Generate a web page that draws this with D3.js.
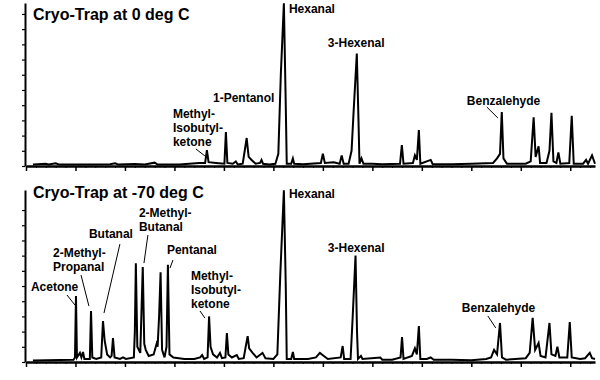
<!DOCTYPE html>
<html><head><meta charset="utf-8">
<script src="https://cdn.jsdelivr.net/npm/d3@7/dist/d3.min.js"></script>
<style>
html,body{margin:0;padding:0;background:#fff;}
svg text{font-family:"Liberation Sans",Arial,sans-serif;font-weight:bold;fill:#000;}
</style></head>
<body><svg id="c" width="600" height="380"></svg>
<script>
// ---------- DATA ----------
const panelTitles = ["Cryo-Trap at 0 deg C", "Cryo-Trap at -70 deg C"];
const xMajorTicks = d3.range(0, 56, 5);     // minutes
const xMinorTicks = d3.range(0, 58, 1);
const yTicks = d3.range(0, 101, 10);

// trace at 0 deg C: [time, signal]
const trace0 = [[0.7,1],[2.0,1.5],[2.3,1],[3.0,1.8],[3.3,1],[5,1],[8.5,1.2],[9.0,1.8],[9.3,1],[11,1.3],[12.0,1],[13.0,2.2],[13.3,1],[15.5,1],[16.5,1.5],[17.5,2],[18.1,2],[18.28,10.5],[18.45,2.5],[19.2,2],[20.05,1.5],[20.2,22.4],[20.35,2],[20.9,1.5],[21.2,3],[21.4,1],[21.9,1.5],[22.15,12],[22.3,18.4],[22.5,6],[22.8,4],[23.2,1.5],[23.65,2],[23.8,4],[23.95,1.5],[24.6,1],[25.2,1.5],[25.5,8],[25.75,60],[26.06,107],[26.25,40],[26.35,1.5],[26.8,1.5],[26.97,5],[27.1,1.5],[28,1.2],[29.8,2],[30.0,8],[30.2,2],[31.1,2.5],[31.7,1.5],[31.9,7],[32.1,1.5],[32.6,1.5],[32.9,10],[33.1,35],[33.43,74],[33.6,30],[33.7,1.5],[33.9,5],[34.1,1.5],[35,1.5],[36,1.2],[37.8,1.5],[37.98,13.8],[38.15,1.5],[39.1,2],[39.3,7],[39.5,4],[39.7,23.7],[39.85,1.5],[40.9,4],[41.1,1.2],[43,1.2],[45,1.5],[47.2,2],[47.6,5],[47.9,8],[48.08,35.5],[48.25,5],[48.6,1.5],[50.5,1.5],[51.0,3],[51.3,32],[51.5,6],[51.8,13],[51.95,2],[52.6,2],[52.9,10],[53.1,35],[53.3,3],[53.6,2],[53.8,9],[54.0,1.5],[54.9,2],[55.15,33],[55.35,1.5],[56.3,1.5],[56.6,4],[56.8,1.5],[57.2,7],[57.5,1.5]];

// trace at -70 deg C: [time, signal]
const trace70 = [[0.7,1],[4.8,1.5],[4.95,3],[5.05,43.4],[5.15,3],[5.45,6],[5.6,3],[5.76,6.6],[5.9,2],[6.45,2],[6.57,33.5],[6.7,3],[7.1,2],[7.6,3],[7.78,27],[7.95,14],[8.2,5],[8.5,3],[8.65,4],[8.79,15.8],[8.95,3],[9.5,2],[9.8,3],[10.1,2],[10.9,3],[11.0,20],[11.1,65],[11.25,10],[11.55,6],[11.8,62.5],[11.95,12],[12.1,8],[12.4,4],[12.9,5],[13.2,12],[13.3,10],[13.45,30],[13.6,59],[13.75,8],[14.0,3],[14.2,10],[14.34,64],[14.5,5],[14.9,3],[16,2],[17.0,2],[17.6,3],[17.8,4.6],[18.0,2],[18.35,3],[18.5,30],[18.65,10],[18.9,5],[19.3,3],[19.6,6],[19.8,2.5],[20.15,3],[20.3,19],[20.45,5],[20.8,3],[21.3,4.6],[21.5,2],[22.0,2.5],[22.2,10],[22.4,17],[22.55,9],[22.9,6],[23.3,3],[23.9,6],[24.2,2.5],[25.0,2],[25.4,5],[25.7,58],[26.06,113],[26.25,50],[26.35,2],[26.8,2],[26.97,6.6],[27.1,2],[28.5,2],[29.3,3],[29.7,6],[30.1,4],[30.5,2],[31.8,3],[32.0,10.5],[32.15,2],[32.8,2],[33.0,28],[33.3,70],[33.45,20],[33.55,2],[33.85,4],[34.0,2],[35.8,3],[36.0,1.5],[37.0,1.5],[37.85,3],[38.0,16.4],[38.15,2],[39.0,4],[39.3,9],[39.5,5],[39.7,23.7],[39.85,2],[40.5,2],[40.9,3],[41.2,1.5],[43,1.5],[45,1.2],[46.5,2],[47.0,3],[47.3,8],[47.6,5],[47.9,25.7],[48.1,3],[48.5,1.5],[50.5,2.5],[50.9,6],[51.2,29],[51.45,8],[51.8,12.5],[52.0,4],[52.5,3],[52.9,25.7],[53.1,5],[53.5,4],[53.7,10],[53.9,3],[54.7,3],[54.95,26.3],[55.15,3],[56.0,2],[56.5,2.5],[56.97,6],[57.2,2.5],[57.5,2]];

// peak labels: lines of text, anchor [time, signal]
const labels0 = [
  {lines:["Hexanal"], at:[26.57,100.7]},
  {lines:["3-Hexenal"], at:[30.5,78.3]},
  {lines:["Benzalehyde"], at:[44.55,40.1]},
  {lines:["1-Pentanol"], at:[18.9,42.1]},
  {lines:["Methyl-","Isobutyl-","ketone"], at:[14.85,31.6]}
];
const leaders0 = [
  [[17.17,11.2],[18.08,6.6]],
  [[46.57,38.8],[47.68,31.6]]
];
const labels70 = [
  {lines:["Hexanal"], at:[26.57,107.9]},
  {lines:["3-Hexenal"], at:[30.5,72.4]},
  {lines:["Benzalehyde"], at:[44.04,32.9]},
  {lines:["Acetone"], at:[0.5,46.7]},
  {lines:["2-Methyl-","Propanal"], at:[2.73,69.1]},
  {lines:["Butanal"], at:[6.36,81.6]},
  {lines:["2-Methyl-","Butanal"], at:[11.41,95.4]},
  {lines:["Pentanal"], at:[14.24,71.1]},
  {lines:["Methyl-","Isobutyl-","ketone"], at:[16.67,53.9]}
];
const leaders70 = [
  [[4.14,44.1],[4.95,37.5]],
  [[5.56,57.2],[6.36,36.8]],
  [[9.49,77.6],[7.88,32.2]],
  [[12.32,83.6],[11.92,65.1]],
  [[14.85,67.1],[14.55,61.8]],
  [[17.58,33.6],[18.08,28.9]],
  [[46.67,30.3],[47.47,22.4]]
];

// ---------- DRAW ----------
const svg = d3.select("#c");
const x = d3.scaleLinear().domain([0, 57.5]).range([26, 595]);

const panels = [
  {title: panelTitles[0], trace: trace0, labels: labels0, leaders: leaders0,
   y: d3.scaleLinear().domain([0, 107.2]).range([166, 3]), titleY: 20},
  {title: panelTitles[1], trace: trace70, labels: labels70, leaders: leaders70,
   y: d3.scaleLinear().domain([0, 113.2]).range([362, 190]), titleY: 198}
];

panels.forEach(p => {
  const g = svg.append("g");
  const y = p.y;

  // y axis
  const ya = g.append("g").attr("transform", `translate(${x(0) - 1},0)`)
    .call(d3.axisLeft(y).tickValues(yTicks).tickSize(3).tickSizeOuter(0).tickFormat(""));
  ya.select(".domain").attr("stroke", "#000").attr("stroke-width", 2);
  ya.selectAll(".tick line").attr("stroke", "#000").attr("stroke-width", 1.2);

  // x axis minor + major
  const xm = g.append("g").attr("transform", `translate(0,${y(0)})`)
    .call(d3.axisBottom(x).tickValues(xMinorTicks).tickSize(2).tickSizeOuter(0).tickFormat(""));
  xm.select(".domain").attr("stroke", "#000").attr("stroke-width", 2.4);
  xm.selectAll(".tick line").attr("stroke", "#000");
  const xa = g.append("g").attr("transform", `translate(0,${y(0)})`)
    .call(d3.axisBottom(x).tickValues(xMajorTicks).tickSize(5).tickSizeOuter(0).tickFormat(""));
  xa.select(".domain").remove();
  xa.selectAll(".tick line").attr("stroke", "#000").attr("stroke-width", 1.5);

  // trace
  const line = d3.line().x(d => x(d[0])).y(d => y(d[1]));
  g.append("path").datum(p.trace).attr("d", line)
    .attr("fill", "none").attr("stroke", "#000").attr("stroke-width", 2)
    .attr("stroke-linejoin", "miter");

  // title
  g.append("text").attr("x", 33).attr("y", p.titleY)
    .style("font-size", "16px").text(p.title);

  // labels
  p.labels.forEach(l => {
    const t = g.append("text").attr("x", x(l.at[0])).attr("y", y(l.at[1]))
      .style("font-size", "12px");
    l.lines.forEach((s, i) => {
      t.append("tspan").attr("x", x(l.at[0])).attr("dy", i ? 14 : 0).text(s);
    });
  });

  // leaders
  p.leaders.forEach(ld => {
    g.append("line")
      .attr("x1", x(ld[0][0])).attr("y1", y(ld[0][1]))
      .attr("x2", x(ld[1][0])).attr("y2", y(ld[1][1]))
      .attr("stroke", "#000").attr("stroke-width", 1);
  });
});
</script></body></html>
